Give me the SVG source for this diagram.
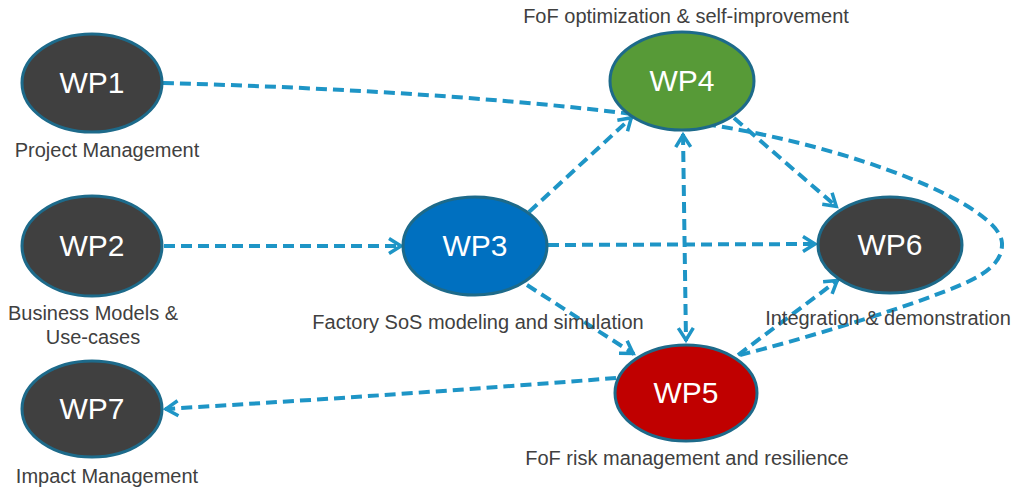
<svg xmlns="http://www.w3.org/2000/svg" width="1015" height="489" viewBox="0 0 1015 489">
<style>
.node{stroke:#1d6a8a;stroke-width:3}
.wp{font-family:"Liberation Sans",Arial,sans-serif;font-size:30px;fill:#ffffff;text-anchor:middle}
.lbl{font-family:"Liberation Sans",Arial,sans-serif;font-size:20px;fill:#404040;text-anchor:middle}
.c{fill:none;stroke:#1e95c6;stroke-width:4;stroke-dasharray:11 6}
</style>
<defs>
<marker id="ah" viewBox="-14 -10 18 20" refX="1" refY="0" markerWidth="18" markerHeight="20" markerUnits="userSpaceOnUse" orient="auto-start-reverse">
<path d="M-12,-7.5 L0,0 L-12,7.5" fill="none" stroke="#1e95c6" stroke-width="3.5" stroke-dasharray="none" stroke-linejoin="miter"/>
</marker>
</defs>
<g id="connectors">
<path class="c" d="M163,83 C350,88 550,100 705,124 C855,147 1000,205 1002,243 C1003,270 970,282 930,297 C890,312 800,340 740,355"/>
<path class="c" d="M164,246 L402,246" marker-end="url(#ah)"/>
<path class="c" d="M529,212 L632,117" marker-end="url(#ah)"/>
<path class="c" d="M548,245 L816,244" marker-end="url(#ah)"/>
<path class="c" d="M527,285 L634,354" marker-end="url(#ah)"/>
<path class="c" d="M683,134 L686,341" marker-start="url(#ah)" marker-end="url(#ah)"/>
<path class="c" d="M734,118 L837,207" marker-end="url(#ah)"/>
<path class="c" d="M738,355 L838,280" marker-end="url(#ah)"/>
<path class="c" d="M616,378 Q400,395 165,409" marker-end="url(#ah)"/>
</g>
<g id="wp1"><ellipse class="node" cx="92" cy="83" rx="70" ry="49" fill="#404040"/><text class="wp" x="92" y="93">WP1</text><text class="lbl" x="107" y="157">Project Management</text></g>
<g id="wp2"><ellipse class="node" cx="92" cy="246" rx="70" ry="50" fill="#404040"/><text class="wp" x="92" y="256">WP2</text><text class="lbl" x="93" y="320">Business Models &amp;</text><text class="lbl" x="93" y="344">Use-cases</text></g>
<g id="wp7"><ellipse class="node" cx="92" cy="409" rx="70" ry="48" fill="#404040"/><text class="wp" x="92" y="419">WP7</text><text class="lbl" x="107" y="483">Impact Management</text></g>
<g id="wp3"><ellipse class="node" cx="475" cy="246" rx="72" ry="49" fill="#0070c0"/><text class="wp" x="475" y="256">WP3</text><text class="lbl" x="478" y="329">Factory SoS modeling and simulation</text></g>
<g id="wp4"><ellipse class="node" cx="682" cy="81" rx="72" ry="49" fill="#579a37"/><text class="wp" x="682" y="91">WP4</text><text class="lbl" x="686" y="23">FoF optimization &amp; self-improvement</text></g>
<g id="wp5"><ellipse class="node" cx="686" cy="393" rx="71" ry="48" fill="#c00000"/><text class="wp" x="686" y="403">WP5</text><text class="lbl" x="687" y="465">FoF risk management and resilience</text></g>
<g id="wp6"><ellipse class="node" cx="890" cy="245" rx="72" ry="48" fill="#404040"/><text class="wp" x="890" y="255">WP6</text><text class="lbl" x="888" y="325">Integration &amp; demonstration</text></g>
</svg>
